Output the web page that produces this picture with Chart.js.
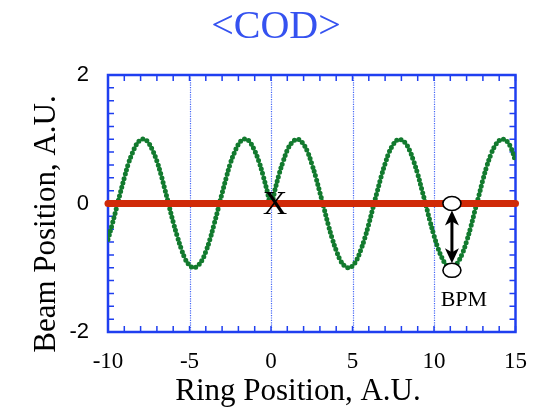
<!DOCTYPE html>
<html>
<head>
<meta charset="utf-8">
<script src="https://cdn.jsdelivr.net/npm/chart.js@4.4.0/dist/chart.umd.min.js"></script>
<style>
    html, body { margin: 0; padding: 0; background: #fff; }
    #cod { display: block; }
</style>
</head>
<body>
<canvas id="cod" width="543" height="409"></canvas>
<script>
// 数据：环上位置 / 束流位置
const ringPos = [
    -10, -9.75, -9.5, -9.25, -9, -8.75, -8.5, -8.25, -8, -7.75,
    -7.5, -7.25, -7, -6.75, -6.5, -6.25, -6, -5.75, -5.5, -5.25,
    -5, -4.75, -4.5, -4.25, -4, -3.75, -3.5, -3.25, -3, -2.75,
    -2.5, -2.25, -2, -1.75, -1.5, -1.25, -1, -0.75, -0.5, -0.25,
    0,
    0.25, 0.5, 0.75, 1, 1.25, 1.5, 1.75, 2, 2.25, 2.5,
    2.75, 3, 3.25, 3.5, 3.75, 4, 4.25, 4.5, 4.75, 5,
    5.25, 5.5, 5.75, 6, 6.25, 6.5, 6.75, 7, 7.25, 7.5,
    7.75, 8, 8.25, 8.5, 8.75, 9, 9.25, 9.5, 9.75, 10,
    10.25, 10.5, 10.75, 11, 11.25, 11.5, 11.75, 12, 12.25, 12.5,
    12.75, 13, 13.25, 13.5, 13.75, 14, 14.25, 14.5, 14.75, 15
];
const beamPos = [
    -0.56, -0.33, -0.09, 0.16, 0.40, 0.62, 0.79, 0.92, 0.99, 1.00,
    0.94, 0.82, 0.66, 0.45, 0.21, -0.04, -0.29, -0.51, -0.71, -0.87,
    -0.96, -1.00, -0.97, -0.89, -0.75, -0.56, -0.33, -0.09, 0.16, 0.40,
    0.62, 0.79, 0.92, 0.99, 1.00, 0.94, 0.82, 0.66, 0.45, 0.21,
    -0.03,
    0.22, 0.46, 0.66, 0.83, 0.94, 0.99, 0.99, 0.92, 0.80, 0.62,
    0.41, 0.17, -0.07, -0.32, -0.54, -0.73, -0.88, -0.97, -1.00, -0.97,
    -0.88, -0.73, -0.54, -0.32, -0.07, 0.17, 0.41, 0.62, 0.80, 0.92,
    0.99, 0.99, 0.94, 0.83, 0.66, 0.46, 0.22, -0.02, -0.27, -0.50,
    -0.70, -0.85, -0.96, -1.00, -0.98, -0.90, -0.77, -0.59, -0.37, -0.12,
    0.12, 0.37, 0.59, 0.77, 0.90, 0.98, 1.00, 0.96, 0.85, 0.66
];
const designOrbitX = [-10, 15];   // 设计轨道（y = 0）
const designOrbitY = [0, 0];
const xLabelTicks = [-10, -5, 0, 5, 10, 15];
const yLabelTicks = [-2, 0, 2];
const xGridLines = [-5, 0, 5, 10];
const kickPos = [0, 0];           // "X" 标记
const bpmX = 11.1;
const bpmReading = [0, -1.04];    // BPM 两个圆圈

const frameBlue = '#1f3ff0';
const serif = '"Liberation Serif", "Times New Roman", serif';
const sans = '"Liberation Sans", Arial, sans-serif';

// 边框、内刻度、虚线网格
const framePlugin = {
    id: 'frame',
    beforeDatasetsDraw(chart) {
        const { ctx, chartArea: a, scales: { x, y } } = chart;
        ctx.save();
        ctx.strokeStyle = '#4466f6';
        ctx.lineWidth = 1.2;
        ctx.setLineDash([1.2, 1.2]);
        xGridLines.forEach(v => {
            const px = Math.round(x.getPixelForValue(v)) + 0.5;
            ctx.beginPath();
            ctx.moveTo(px, a.top);
            ctx.lineTo(px, a.bottom);
            ctx.stroke();
        });
        ctx.setLineDash([]);
        ctx.strokeStyle = frameBlue;
        ctx.lineWidth = 1.5;
        x.ticks.forEach(t => {
            const px = x.getPixelForValue(t.value);
            ctx.beginPath();
            ctx.moveTo(px, a.top); ctx.lineTo(px, a.top + 6);
            ctx.moveTo(px, a.bottom); ctx.lineTo(px, a.bottom - 6);
            ctx.stroke();
        });
        y.ticks.forEach(t => {
            const py = y.getPixelForValue(t.value);
            ctx.beginPath();
            ctx.moveTo(a.left, py); ctx.lineTo(a.left + 6, py);
            ctx.moveTo(a.right, py); ctx.lineTo(a.right - 6, py);
            ctx.stroke();
        });
        ctx.lineWidth = 2.5;
        ctx.strokeRect(a.left, a.top, a.right - a.left, a.bottom - a.top);
        ctx.restore();
    }
};

function arrowHead(ctx, px, tipY, dir) {
    const len = 15, half = 7, notch = 4;
    ctx.beginPath();
    ctx.moveTo(px, tipY);
    ctx.lineTo(px - half, tipY - dir * len);
    ctx.lineTo(px, tipY - dir * (len - notch));
    ctx.lineTo(px + half, tipY - dir * len);
    ctx.closePath();
    ctx.fill();
}

// 标注：X、BPM、标题
const notePlugin = {
    id: 'notes',
    afterDatasetsDraw(chart) {
        const { ctx, scales: { x, y } } = chart;
        ctx.save();
        // X
        ctx.fillStyle = '#000';
        ctx.font = '34px ' + serif;
        ctx.textAlign = 'center';
        ctx.textBaseline = 'alphabetic';
        ctx.fillText('X', x.getPixelForValue(kickPos[0]) + 4, y.getPixelForValue(kickPos[1]) + 10);

        // BPM
        const px = x.getPixelForValue(bpmX);
        const y0 = y.getPixelForValue(bpmReading[0]);
        const y1 = y.getPixelForValue(bpmReading[1]);
        ctx.strokeStyle = '#000';
        ctx.lineWidth = 3;
        ctx.beginPath();
        ctx.moveTo(px, y0 + 16);
        ctx.lineTo(px, y1 - 16);
        ctx.stroke();
        arrowHead(ctx, px, y0 + 7, -1);
        arrowHead(ctx, px, y1 - 7, 1);
        ctx.lineWidth = 1.6;
        [y0, y1].forEach(py => {
            ctx.beginPath();
            ctx.ellipse(px, py, 9, 7, 0, 0, Math.PI * 2);
            ctx.fillStyle = '#fff';
            ctx.fill();
            ctx.stroke();
        });
        ctx.fillStyle = '#000';
        ctx.font = '22px ' + serif;
        ctx.textAlign = 'center';
        ctx.fillText('BPM', px + 12, y1 + 36);
        ctx.restore();
    },
    afterDraw(chart) {
        const { ctx } = chart;
        ctx.save();
        ctx.textAlign = 'center';
        ctx.textBaseline = 'alphabetic';
        ctx.fillStyle = '#3552f0';
        ctx.font = '40px ' + serif;
        ctx.fillText('<COD>', 276, 38);
        ctx.fillStyle = '#000';
        ctx.font = '31px ' + serif;
        ctx.fillText('Ring Position, A.U.', 298, 400);
        ctx.translate(55, 224);
        ctx.rotate(-Math.PI / 2);
        ctx.fillText('Beam Position, A.U.', 0, 0);
        ctx.restore();
    }
};

const codChart = new Chart(document.getElementById('cod'), {
    type: 'scatter',
    data: {
        datasets: [
            {
                label: 'COD',
                data: ringPos.map((v, i) => ({ x: v, y: beamPos[i] })),
                showLine: true,
                borderColor: '#127a2e',
                borderWidth: 5,
                borderDash: [0, 4.5],
                borderCapStyle: 'round',
                tension: 0.4,
                pointRadius: 0,
                order: 2
            },
            {
                label: 'design',
                data: designOrbitX.map((v, i) => ({ x: v, y: designOrbitY[i] })),
                showLine: true,
                borderColor: '#d02a08',
                borderWidth: 7,
                borderCapStyle: 'round',
                pointRadius: 0,
                clip: false,
                order: 1
            }
        ]
    },
    options: {
        responsive: false,
        animation: false,
        layout: { padding: { top: 75, right: 23, left: 0, bottom: 0 } },
        plugins: {
            legend: { display: false },
            tooltip: { enabled: false }
        },
        scales: {
            x: {
                type: 'linear',
                min: -10,
                max: 15,
                afterFit(s) { s.height = 77; },
                grid: { display: false, drawTicks: false },
                border: { display: false },
                ticks: {
                    stepSize: 1,
                    autoSkip: false,
                    maxRotation: 0,
                    padding: 16,
                    color: '#000',
                    font: { family: serif, size: 23 },
                    callback: v => xLabelTicks.includes(Math.round(v)) && Math.abs(v - Math.round(v)) < 1e-6 ? String(Math.round(v)) : ''
                }
            },
            y: {
                type: 'linear',
                min: -2,
                max: 2,
                afterFit(s) { s.width = 108; },
                grid: { display: false, drawTicks: false },
                border: { display: false },
                ticks: {
                    stepSize: 0.2,
                    autoSkip: false,
                    padding: 19,
                    color: '#000',
                    font: { family: sans, size: 22 },
                    callback: v => {
                        const r = Math.round(v * 10) / 10;
                        return yLabelTicks.includes(r) ? String(r === 0 ? 0 : r) : '';
                    }
                }
            }
        }
    },
    plugins: [framePlugin, notePlugin]
});
</script>
</body>
</html>
